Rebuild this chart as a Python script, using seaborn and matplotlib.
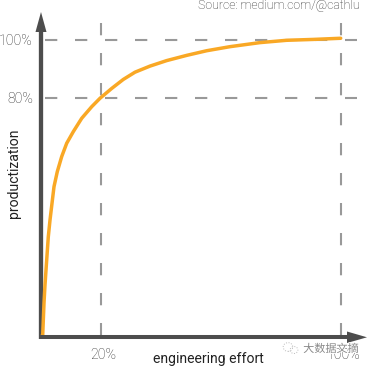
import seaborn as sns
import pandas as pd
import matplotlib.pyplot as plt
import matplotlib.patheffects as pe
from matplotlib.patches import Ellipse

# curve, percent of effort / productization
effort = [0, 0.57, 0.77, 1.0, 1.33, 1.67, 2.43, 3.0, 3.67, 4.33, 5.43, 6.9, 8.57, 10.77, 13.57, 16.9, 19.67,
          23.57, 27.43, 31.33, 36.33, 41.9, 48.57, 55.23, 63, 73, 81.9, 90.77, 99.9]
productization = [-2.4, -1.7, 3.4, 9.3, 15.5, 20.7, 32.1, 37.9, 43.7, 49.4, 54.6, 59.8, 64.4, 68.4, 73, 77, 79.9,
                  83.3, 86.4, 88.9, 91, 92.9, 94.7, 96.3, 97.7, 99.1, 99.9, 100.2, 100.6]

ref_x = [20, 100]
ref_y = [80, 100]
x_tick_labels = ["20%", "100%"]
y_tick_labels = ["80%", "100%"]

sns.set_theme(style="white")
plt.rcParams['font.family'] = ['Roboto', 'DejaVu Sans']

grey = "#999999"
dark = "#4d4d4d"
orange = "#f9a825"
label_grey = "#2e2e2e"


# pixel position in the picture -> data position
def px_x(px):
    return (px - 41) / 3


def px_y(py):
    return 100 - (py - 40) / 2.9


fig = plt.figure(figsize=(3.68, 3.66), dpi=100)
ax = fig.add_axes([0, 0, 1, 1])
ax.set_xlim(px_x(0), px_x(368))
ax.set_ylim(px_y(366), px_y(0))
ax.axis("off")

for v in ref_y:
    ax.plot([px_x(45), px_x(357)], [v, v], color=grey, lw=1.5, dashes=(5.9, 8.5),
            dash_capstyle="butt", zorder=1)
for v in ref_x:
    ax.plot([v, v], [px_y(23), px_y(335)], color=grey, lw=1.5, dashes=(5.9, 8.5),
            dash_capstyle="butt", zorder=1)

df = pd.DataFrame({"effort": effort, "productization": productization})
sns.lineplot(data=df, x="effort", y="productization", color=orange, lw=2.5, ax=ax,
             zorder=3, sort=False, legend=False)
ax.set_xlabel("")
ax.set_ylabel("")

# axis arrows, shaft then head
ax.plot([px_x(41), px_x(41)], [px_y(339), px_y(30)], color=dark, lw=3.1,
        solid_capstyle="butt", zorder=2)
ax.fill([px_x(35.5), px_x(41), px_x(46.5)], [px_y(32), px_y(12), px_y(32)], color=dark, lw=0, zorder=2)
ax.plot([px_x(39), px_x(349)], [px_y(337.3), px_y(337.3)], color=dark, lw=2.9,
        solid_capstyle="butt", zorder=4)
ax.fill([px_x(347), px_x(367), px_x(347)], [px_y(331.5), px_y(337.3), px_y(343)], color=dark, lw=0, zorder=4)

for v, s in zip(ref_y, y_tick_labels):
    ax.text(px_x(33), v - 0.5, s, ha="right", va="center", fontsize=10.2, color=label_grey, fontweight="light")
for v, s in zip(ref_x, x_tick_labels):
    ax.text(v + 0.9, px_y(355), s, ha="center", va="center", fontsize=10.2, color=label_grey, fontweight="light")

ax.text(px_x(208), px_y(359), "engineering effort", ha="center", va="center", fontsize=10.1, color="#222222")
ax.text(px_x(14), px_y(173.5), "productization", ha="center", va="center", rotation=90,
        fontsize=10.1, color="#222222")
ax.text(px_x(360), px_y(6), "Source: medium.com/@cathlu", ha="right", va="center", fontsize=8.8,
        color=label_grey, fontweight="light")

# watermark over the corner
ax.add_patch(Ellipse((px_x(288), px_y(347)), 3.2, 3.0, fill=False, ec="#bbbbbb", lw=0.7, ls=":", zorder=5))
ax.add_patch(Ellipse((px_x(294), px_y(350)), 2.6, 2.4, fill=False, ec="#bbbbbb", lw=0.7, ls=":", zorder=5))
ax.text(px_x(331), px_y(349), "大数据文摘", ha="center", va="center", fontsize=8, color="#888888",
        family=['Noto Sans CJK SC', 'DejaVu Sans'], zorder=5,
        path_effects=[pe.withStroke(linewidth=1.2, foreground="white")])

fig.savefig("out.png", dpi=100)
